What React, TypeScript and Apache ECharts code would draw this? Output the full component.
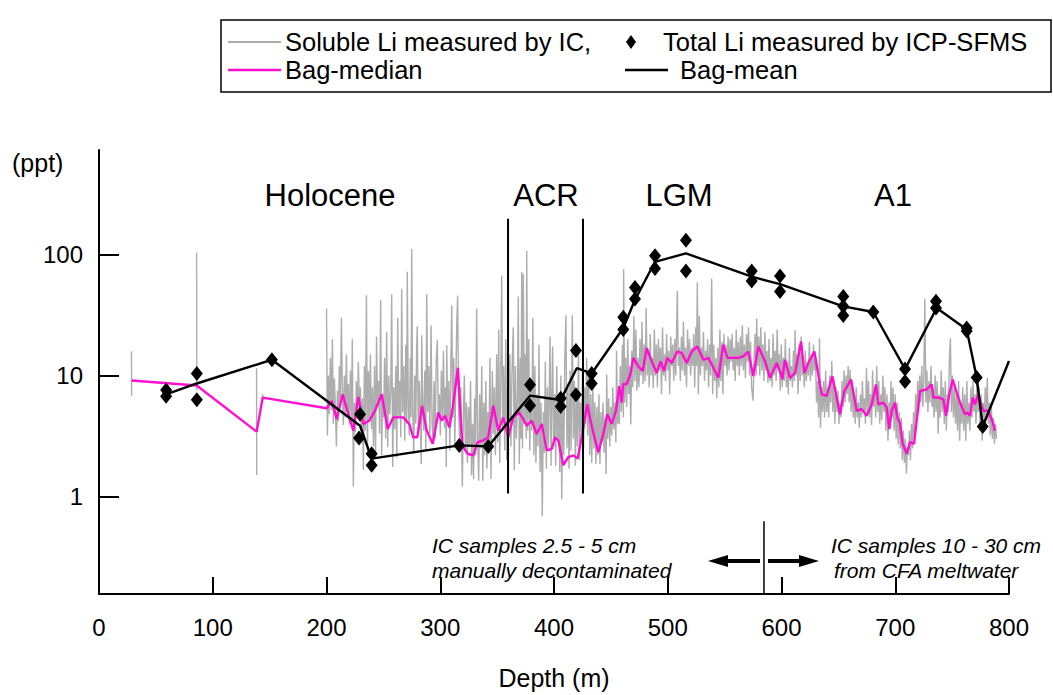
import React, { useEffect, useRef } from 'react';
import * as echarts from 'echarts';

// ---------------- DATA ----------------
const depthTicks = [0, 100, 200, 300, 400, 500, 600, 700, 800];
const yTickValues = [1, 10, 100];

// Soluble Li measured by IC (grey); '-' marks gaps between isolated bags
const solubleIC: [number, number | string][] = [
  [28.5, 15.9], [28.7, 6.8], [57, '-'],
  [85.8, 104], [86.0, 7.6], [110, '-'],
  [138.5, 11.5], [138.7, 1.51], [141, '-'],
  [143.8, 7.0], [144.0, 6.2], [170, '-'],
  [200.0, 35.8], [200.8, 3.2], [201.7, 10], [202.5, 4.8], [203.4, 14], [204.3, 5.2], [205.2, 20], [206.0, 4.0],
  [206.9, 9.5], [207.8, 5.5], [208.7, 2.6], [209.6, 7.5], [210.4, 4.2], [211.3, 12], [212.2, 6], [213.1, 30],
  [214.0, 7], [214.8, 3.9], [215.7, 10], [216.6, 4.5], [217.5, 15], [218.4, 5], [219.2, 8.5], [220.1, 3.95],
  [221.0, 11], [221.9, 4.3], [222.7, 20], [223.6, 1.21], [224.5, 6], [225.4, 3.4], [226.2, 9], [227.1, 4.6],
  [228.0, 13], [228.9, 5.5], [229.8, 8], [230.6, 3.2], [231.5, 6.5], [232.4, 1.66], [233.3, 12], [234.2, 3.5],
  [235.1, 46], [236.0, 2.4], [236.8, 10.9], [237.7, 4.2], [238.6, 15], [239.5, 3.6], [240.4, 8], [241.3, 2.6],
  [242.2, 12], [243.1, 2.05], [244.0, 21], [244.9, 5.6], [245.8, 9], [246.7, 3.3], [247.6, 42], [248.5, 2.2],
  [249.3, 7], [250.2, 4.5], [251.1, 14], [252.0, 3.0], [252.9, 23], [253.8, 2.56], [254.7, 10], [255.6, 4.8],
  [256.5, 7.5], [257.3, 47], [258.2, 1.76], [259.1, 8], [260.0, 3.6], [260.9, 12], [261.8, 2.1], [262.6, 30],
  [263.5, 4.5], [264.4, 9], [265.3, 3.1], [266.1, 52], [267.0, 5], [267.9, 12], [268.8, 2.9], [269.7, 18],
  [270.5, 4], [271.0, 72], [271.9, 6], [272.8, 3.2], [273.7, 14], [274.3, 4.5], [274.9, 111], [275.8, 5],
  [276.7, 2.25], [277.6, 10], [278.5, 4], [279.2, 16], [279.8, 25.5], [280.7, 3.3], [281.6, 9], [282.5, 4.5],
  [283.3, 1.86], [283.7, 21.5], [284.6, 6], [285.5, 3.5], [286.4, 11], [287.3, 2.42], [288.1, 47], [289.0, 5],
  [289.9, 12], [290.8, 3.3], [291.9, 26], [292.8, 4], [293.7, 2.8], [294.6, 9], [295.5, 3], [296.4, 13],
  [297.4, 19.6], [298.3, 4.5], [299.2, 7], [300.1, 3.2], [301.0, 11], [301.9, 4.4], [302.8, 16], [303.7, 3.7],
  [304.6, 8], [305.3, 1.76], [305.7, 17.8], [306.6, 3.9], [307.5, 9], [308.4, 2.4], [309.3, 12], [310.1, 37.8],
  [311.0, 4.5], [311.9, 14], [312.8, 2.7], [313.7, 9], [314.5, 26], [315.3, 45.7], [316.2, 5], [317.1, 2.8],
  [318.0, 8], [319.4, 1.21], [320.3, 4.5], [321.2, 10], [322.1, 2.4], [323.0, 6], [323.9, 1.9], [324.8, 5.5],
  [325.7, 2.6], [326.6, 9], [327.5, 1.5], [328.4, 4], [329.3, 1.4], [330.2, 6.5], [331.1, 2.2], [332.0, 35.8],
  [332.9, 3], [333.8, 1.35], [334.7, 7], [335.6, 2.5], [336.5, 12], [337.4, 1.35], [338.3, 6], [339.2, 2.2],
  [340.1, 9], [341.0, 1.7], [341.9, 5], [342.8, 2.8], [343.7, 14], [344.6, 1.4], [345.8, 10.9], [346.7, 3.3],
  [347.6, 8], [348.5, 2.2], [349.6, 15], [350.5, 2.8], [351.4, 24], [352.3, 1.9], [353.2, 9], [354.0, 67],
  [354.9, 3.5], [355.8, 12], [356.7, 2.4], [357.6, 20], [358.5, 2.0], [359.4, 8], [360.3, 3.2], [361.2, 15],
  [362.1, 2.6], [363.0, 10], [364.2, 25], [365.1, 1.66], [366.0, 12], [366.9, 3], [367.8, 6], [368.6, 45],
  [369.5, 1.86], [370.4, 14], [371.0, 3], [371.6, 72], [372.3, 2.5], [373.0, 69], [373.9, 4], [374.8, 15],
  [375.5, 3], [376.0, 107], [376.9, 3.5], [377.8, 20], [378.7, 2.4], [379.6, 9], [380.5, 3.5], [381.4, 30],
  [382.3, 2.2], [383.2, 12], [384.1, 1.9], [385.0, 7], [385.9, 2.6], [386.8, 18], [387.7, 1.6], [388.6, 6],
  [389.7, 0.69], [390.6, 5], [391.5, 2.3], [392.4, 13], [393.3, 1.7], [394.2, 8], [395.1, 2.5], [396.5, 21],
  [397.4, 1.8], [398.3, 9], [398.8, 17.4], [399.7, 2.6], [400.6, 7], [401.5, 1.8], [402.4, 12], [403.3, 3],
  [404.2, 6], [405.1, 1.6], [406.0, 10], [406.8, 0.95], [407.7, 5], [408.6, 2.2], [409.5, 14], [410.5, 31.5],
  [411.4, 2.5], [412.3, 8], [413.2, 1.7], [414.1, 11], [415.0, 2.4], [416.1, 31.5], [417.0, 3], [417.9, 9],
  [418.8, 1.8], [419.7, 7], [420.6, 2.6], [421.5, 16], [422.4, 2.0], [423.3, 6], [424.2, 3.4], [425.1, 12],
  [426.0, 2.5], [426.9, 8], [427.8, 4], [428.7, 14], [429.6, 3.2], [430.5, 10.9], [431.4, 2.2], [432.3, 7],
  [433.2, 1.9], [434.1, 9], [435.0, 2.5], [435.9, 6], [436.8, 1.86], [437.7, 5.5], [438.6, 2.2], [439.5, 7],
  [440.4, 1.86], [441.3, 5], [442.2, 2.8], [443.1, 6], [444.0, 2.3], [444.9, 4.5], [445.8, 1.54], [446.3, 10.2],
  [447.2, 3], [448.1, 6.5], [449.0, 2.6], [449.9, 5.5], [450.8, 3.2], [451.7, 8], [452.6, 3.6], [453.5, 6],
  [454.4, 2.8], [455.0, 16], [455.9, 4], [456.8, 7], [457.4, 3.95], [458.3, 12], [459.2, 5], [460.1, 18],
  [461.0, 4.5], [461.2, 76], [462.1, 6], [463.0, 14], [463.9, 5.5], [464.8, 20], [465.7, 7], [466.6, 12],
  [467.5, 3.95], [468.4, 16], [469.3, 8], [470.2, 31], [471.1, 9], [472.0, 24], [472.9, 7.5], [473.8, 14],
  [474.7, 8], [475.6, 20], [476.5, 10], [477.4, 28], [478.3, 8.5], [479.2, 18], [480.1, 9], [481.0, 36],
  [481.9, 10], [482.8, 16], [483.7, 8], [484.6, 22], [485.5, 10], [486.4, 14], [487.3, 7.9], [488.2, 24],
  [489.1, 10], [490.0, 18], [490.9, 8], [491.8, 20], [492.7, 11], [493.6, 17], [494.5, 7], [495.4, 25],
  [496.3, 10], [497.2, 15], [498.1, 9], [499.0, 22], [499.9, 11], [500.8, 16], [501.7, 7], [502.6, 21],
  [503.5, 12], [504.4, 18], [505.3, 9], [506.2, 20], [507.1, 10], [508.4, 50], [509.3, 12], [510.2, 17],
  [511.1, 9], [512.0, 21], [512.9, 11], [513.8, 28], [514.7, 10], [515.6, 17], [516.5, 8], [517.4, 24],
  [518.3, 12], [519.2, 20], [520.1, 10], [521.0, 17], [521.9, 12], [522.8, 22], [523.7, 8], [524.6, 25],
  [525.3, 12], [526.0, 59], [526.9, 7], [527.8, 31], [528.7, 10], [529.6, 17], [530.5, 12], [531.4, 23],
  [532.3, 9], [533.2, 16], [534.1, 11], [535.0, 20], [535.9, 8], [536.8, 18], [537.7, 10], [538.6, 63],
  [539.5, 7], [540.4, 18], [541.3, 9], [542.2, 14], [543.1, 6.5], [544.0, 17], [544.9, 8], [545.8, 24],
  [546.7, 9], [547.6, 19], [548.5, 7], [549.4, 22], [550.3, 12], [551.2, 18], [552.1, 10], [553.0, 21],
  [553.9, 11], [554.8, 20], [555.7, 13], [556.6, 22], [557.5, 11], [558.4, 17], [559.3, 9], [560.2, 24],
  [561.1, 12], [562.0, 19], [562.9, 10], [563.8, 21], [564.7, 12], [565.6, 26], [566.5, 11], [567.4, 18],
  [568.3, 9.5], [569.2, 22], [570.1, 13], [571.0, 25], [571.9, 10], [572.8, 19], [573.7, 8], [575.0, 6.2],
  [575.9, 14], [576.8, 22], [577.7, 10], [578.2, 29.6], [579.1, 12], [580.0, 21], [580.9, 10], [581.8, 25],
  [582.7, 11], [583.6, 18], [584.5, 9], [585.4, 23], [586.3, 11], [587.2, 16], [588.1, 8.7], [589.0, 20],
  [589.9, 9], [590.8, 14], [591.7, 8], [592.6, 22], [593.5, 10], [594.4, 16], [595.3, 9], [596.2, 24],
  [597.1, 11], [598.0, 15], [598.9, 7.5], [599.8, 18], [600.7, 8], [601.6, 14], [602.5, 9], [603.4, 20],
  [604.3, 8], [605.2, 13], [606.0, 7], [606.9, 17], [607.8, 9], [608.7, 12], [609.6, 8], [610.5, 16],
  [611.4, 9], [611.9, 23.8], [612.8, 10], [613.7, 15], [614.6, 7], [615.5, 18], [616.4, 9], [617.3, 21],
  [618.2, 10], [619.1, 14], [620.0, 8], [620.9, 16], [621.8, 9], [622.7, 13], [623.6, 10], [624.5, 19],
  [625.4, 9], [626.3, 15], [627.2, 10], [628.1, 18], [629.0, 11], [629.9, 14], [630.8, 6], [631.7, 9],
  [632.6, 4.5], [633.4, 20.3], [634.3, 3.7], [635.2, 8], [636.1, 5], [637.0, 9], [637.9, 4.5], [638.8, 11],
  [639.7, 5], [640.6, 8], [641.5, 4.5], [642.4, 10], [643.3, 6], [644.2, 13.2], [645.1, 5], [646.0, 9],
  [646.9, 4], [647.8, 8], [648.7, 5], [649.6, 7.5], [650.5, 3.98], [651.4, 6], [652.3, 4.5], [653.2, 9],
  [654.1, 5.5], [655.0, 11], [655.9, 6], [656.8, 10], [657.7, 7], [658.6, 12], [659.5, 6], [660.3, 11.2],
  [661.2, 5], [662.1, 9], [663.0, 4.5], [663.9, 7], [664.8, 4], [665.7, 8], [666.6, 4.5], [667.5, 6],
  [668.4, 3.7], [669.3, 7], [670.2, 4.5], [671.1, 9], [672.0, 5], [672.9, 6.5], [673.8, 4], [674.7, 11.6],
  [675.6, 5], [676.5, 9], [677.4, 4.5], [678.3, 7], [679.2, 3.9], [680.1, 11], [681.0, 5.5], [681.9, 8],
  [682.8, 4.5], [683.7, 12], [684.6, 5], [685.5, 9], [686.4, 4], [687.3, 7], [688.2, 4.3], [689.1, 10],
  [690.0, 5], [690.9, 8], [691.8, 3.5], [692.7, 7], [693.6, 2.9], [694.5, 6], [695.4, 4], [696.3, 9],
  [697.2, 4.5], [698.1, 8], [699.0, 3.5], [699.9, 7], [700.8, 3], [701.7, 6], [702.6, 2.7], [703.5, 5],
  [704.4, 2.5], [705.3, 4.5], [706.2, 2], [707.1, 3.5], [708.0, 1.9], [708.9, 3], [709.8, 1.55], [710.7, 2.6],
  [711.6, 2.2], [712.5, 3.5], [713.4, 2], [714.3, 4], [715.2, 2.5], [716.1, 5], [717.0, 3], [717.9, 7],
  [718.8, 4.5], [719.7, 9], [720.6, 5], [721.5, 10], [722.4, 6], [723.3, 12], [724.2, 5.5], [725.1, 9],
  [726.0, 43], [726.9, 6], [727.8, 11], [728.7, 5], [729.6, 9], [730.5, 6], [731.4, 12], [732.3, 5.5],
  [733.2, 8], [734.1, 4.5], [735.0, 10], [735.9, 5], [736.8, 9], [737.7, 3.3], [738.6, 7], [739.5, 4.5],
  [740.4, 11], [741.3, 5], [742.2, 8], [743.1, 4], [744.0, 9], [744.9, 3.5], [745.8, 7], [746.7, 5],
  [747.6, 14], [748.5, 20.3], [749.4, 5], [750.3, 10], [751.2, 4.5], [752.1, 8], [753.0, 4], [753.9, 7],
  [754.8, 3.5], [755.7, 9], [756.6, 2.9], [757.5, 6], [758.4, 4], [759.3, 8], [760.2, 3.5], [761.1, 7],
  [762.0, 2.9], [762.9, 9], [763.8, 4], [764.7, 6], [765.6, 3.5], [766.5, 8], [767.4, 4.5], [768.3, 9],
  [769.2, 5], [770.1, 7], [771.0, 4], [771.9, 9], [772.8, 5], [773.7, 8], [774.6, 3.5], [775.5, 7],
  [776.4, 2.9], [777.3, 6], [778.2, 3.5], [779.1, 8], [780.0, 4.5], [780.9, 9.6], [781.8, 4], [782.7, 6],
  [783.6, 3.2], [784.5, 5.5], [785.4, 3], [786.3, 4.5], [787.2, 2.73], [788.1, 4], [789.0, 3],
];

// Bag-median (magenta)
const bagMedian: [number, number][] = [
  [28.7, 9.1], [85.9, 8.28], [138.6, 3.44], [143.9, 6.58], [200.2, 5.37], [204.6, 6.18], [209, 4.37],
  [214.2, 7.0], [219.2, 4.8], [223.6, 3.51], [228, 6.66], [232.4, 3.98], [237.6, 4.24], [242.6, 5.12],
  [248.5, 7.0], [253.8, 3.62], [258.7, 4.51], [267.5, 4.51], [272.8, 3.98], [276.3, 3.09], [279.8, 3.09],
  [284, 5.62], [288.1, 3.51], [293.4, 2.73], [298.3, 4.95], [301.3, 4.24], [304.2, 4.66], [308, 3.73],
  [311, 5.44], [315.5, 11.6], [319.4, 2.65], [324.1, 2.26], [329, 2.19], [332.9, 2.82], [337.8, 2.91],
  [342.2, 3.09], [346.6, 5.62], [351, 3.51], [355.4, 4.51], [359.8, 3.09], [364.2, 4.51], [369.2, 4.95],
  [373, 4.37], [376, 3.86], [380.4, 4.24], [384.8, 3.29], [389.2, 3.98], [393.6, 2.41], [398, 2.48],
  [400.9, 3.09], [403.8, 2.91], [408.2, 1.82], [412.6, 2.12], [417, 2.19], [420.8, 2.06], [424.3, 3.09],
  [429.3, 5.79], [432.4, 4.1], [435.5, 3.1], [439, 2.33], [443.3, 3.29], [446.9, 4.8], [450.7, 3.98],
  [454.5, 5.12], [457.4, 8.19], [459.5, 5.98], [460.9, 8.55], [463.9, 8.45], [467.4, 10.5], [469.7, 14.0],
  [474.1, 11.9], [478, 10.9], [481.5, 16.9], [485.9, 13.1], [490.3, 10.5], [493.8, 13.1], [496.7, 10.9],
  [499.6, 14.0], [503.5, 12.7], [508.4, 15.8], [512.3, 15.3], [516.7, 12.7], [521.1, 15.8], [526, 17.4],
  [531.3, 13.5], [535.7, 14.0], [540.1, 11.6], [544.5, 9.57], [548.8, 18], [552.5, 14], [562, 14.0],
  [566.4, 14.4], [570.8, 15.8], [575.2, 9.89], [579.6, 17.4], [585.5, 13.1], [589.9, 9.57], [595.8, 12.7],
  [599.6, 10.2], [600.7, 9.28], [603, 13.5], [607.5, 9.57], [611.9, 10.5], [617.2, 19.1], [620.1, 10.5],
  [623.6, 12.7], [628.9, 15.8], [635.3, 7.0], [639.7, 6.79], [644.7, 9.89], [651.4, 4.8], [655.2, 7.45],
  [661.1, 9.27], [666.1, 5.12], [670.5, 5.27], [674.9, 4.66], [679.3, 5.79], [683.1, 8.44], [685.1, 5.79],
  [689.5, 5.98], [692.5, 5.44], [694.8, 3.62], [696.9, 5.12], [699.8, 5.98], [701.8, 4.51], [704.2, 4.03],
  [706.5, 2.73], [710.1, 2.26], [713, 2.82], [716.5, 2.73], [721.8, 7.45], [727.6, 7.69], [732, 8.44],
  [733.5, 6.58], [737.9, 6.58], [742.3, 6.36], [744.6, 4.66], [747.5, 7.0], [750.5, 9.27], [754.5, 7.0],
  [757.5, 5.79], [761.3, 4.8], [763.3, 4.95], [765.7, 4.66], [768.1, 6.58], [770.1, 5.79], [773, 7.0],
  [777.4, 5.12], [781.8, 5.12], [785.7, 4.1], [787.7, 3.51],
];

// Bag-mean (black line)
const bagMean: [number, number][] = [
  [59, 6.98], [86, 8.6], [152, 13.5], [229.5, 3.85], [239.7, 2.06], [316.7, 2.65], [342.2, 2.6],
  [378.9, 6.82], [405.9, 6.28], [420, 11.5], [433.1, 10.4], [460.9, 24.7], [471.2, 42.2], [488.8, 87],
  [516, 102], [573.8, 65.6], [598.7, 56.8], [654.3, 37.3], [680.7, 33.5], [708.6, 11.3], [736.4, 36.1],
  [762.8, 24.0], [771.6, 9.63], [776.9, 3.8], [800, 13.2],
];

// Total Li measured by ICP-SFMS (diamonds)
const totalLi: [number, number][] = [
  [59, 7.58], [59, 6.73], [86, 10.4], [86, 6.32], [152, 13.5], [229.5, 4.79], [228.6, 3.05],
  [239.7, 2.26], [239.7, 1.82], [316.7, 2.65], [342.2, 2.6], [378.9, 8.39], [378.9, 5.65],
  [405.9, 6.48], [405.9, 5.54], [419.3, 16.1], [419.3, 6.95], [433.1, 10.4], [433.1, 8.6],
  [460.9, 30.3], [460.9, 24.0], [471.2, 53.3], [471.2, 42.8], [488.8, 97.6], [488.8, 76.7],
  [516, 131], [516, 73], [573.8, 73], [573.8, 60.4], [598.7, 66.4], [598.7, 49.5],
  [654.3, 45], [654.3, 37.3], [654.3, 31.4], [680.7, 33.5], [708.6, 11.3], [708.6, 8.93],
  [735.8, 41], [735.8, 36.1], [762.8, 24.7], [762.8, 23.3], [771.6, 9.63], [776.9, 3.8],
];

// ACR period boundaries (depth, m) and their vertical extent (ppt)
const acrBounds = [359.6, 425.5];
const acrExtent = [1.06, 197];
// Sampling-method change (depth, m) and its vertical extent (ppt)
const methodChangeDepth = 584.6;
const methodChangeExtent = [0.157, 0.625];

const yMin = 0.157;
const yMax = 729;

const FONT = '"Liberation Sans", Arial, Helvetica, sans-serif';

export default function App() {
  const ref = useRef<HTMLDivElement>(null);

  useEffect(() => {
    if (!ref.current) return;
    const chart = echarts.init(ref.current, undefined, { renderer: 'svg' });

    const vLine = (d: number, ext: number[]) => [[d, ext[1]], [d, ext[0]]];
    const txt = (text: string, x: number, y: number, size: number, extra: any = {}) => ({
      type: 'text',
      style: { text, x, y, fontSize: size, fontFamily: FONT, fill: '#000', verticalAlign: 'middle', ...extra },
    });

    const option: any = {
      animation: false,
      backgroundColor: '#ffffff',
      grid: { left: 99, right: 44, top: 150, bottom: 97 },
      xAxis: {
        type: 'value',
        min: depthTicks[0],
        max: depthTicks[depthTicks.length - 1],
        interval: 100,
        axisLine: { show: true, onZero: false, lineStyle: { color: '#000', width: 2 } },
        axisTick: { show: true, inside: true, length: 17, lineStyle: { color: '#000', width: 2 } },
        axisLabel: { color: '#000', fontSize: 24, fontFamily: FONT, margin: 21 },
        splitLine: { show: false },
        name: 'Depth (m)',
        nameLocation: 'middle',
        nameGap: 71,
        nameTextStyle: { color: '#000', fontSize: 25, fontFamily: FONT },
      },
      yAxis: {
        type: 'log',
        logBase: 10,
        min: yMin,
        max: yMax,
        axisLine: { show: true, onZero: false, lineStyle: { color: '#000', width: 2 } },
        axisTick: {
          show: true, inside: true, length: 20, customValues: yTickValues,
          lineStyle: { color: '#000', width: 2 },
        },
        axisLabel: {
          color: '#000', fontSize: 24, fontFamily: FONT, margin: 16,
          customValues: yTickValues,
          formatter: (v: number) => String(Math.round(v)),
        },
        splitLine: { show: false },
      },
      series: [
        {
          name: 'Soluble Li measured by IC,',
          type: 'line',
          data: solubleIC,
          showSymbol: false,
          connectNulls: false,
          lineStyle: { color: '#adadad', width: 1.4 },
          z: 1,
        },
        {
          name: 'Bag-median',
          type: 'line',
          data: bagMedian,
          showSymbol: false,
          lineStyle: { color: '#ff10d0', width: 2.4 },
          z: 2,
        },
        {
          name: 'Bag-mean',
          type: 'line',
          data: bagMean,
          showSymbol: false,
          lineStyle: { color: '#000', width: 2.4 },
          z: 3,
        },
        {
          name: 'Total Li measured by ICP-SFMS',
          type: 'scatter',
          data: totalLi,
          symbol: 'diamond',
          symbolSize: [12, 15],
          itemStyle: { color: '#000', opacity: 1 },
          z: 4,
        },
        ...acrBounds.map((d) => ({
          type: 'line',
          data: vLine(d, acrExtent),
          showSymbol: false,
          lineStyle: { color: '#000', width: 2 },
          z: 5,
        })),
        {
          type: 'line',
          data: vLine(methodChangeDepth, methodChangeExtent),
          showSymbol: false,
          lineStyle: { color: '#000', width: 1.5 },
          z: 5,
        },
      ],
      graphic: [
        // legend box
        { type: 'rect', shape: { x: 221, y: 20, width: 830, height: 72 }, style: { fill: '#fff', stroke: '#000', lineWidth: 1.5 } },
        { type: 'line', shape: { x1: 228, y1: 42, x2: 281, y2: 42 }, style: { stroke: '#adadad', lineWidth: 1.8 } },
        txt('Soluble Li measured by IC,', 285, 42, 25.5),
        { type: 'polygon', shape: { points: [[631, 35], [636, 42], [631, 49], [626, 42]] }, style: { fill: '#000' } },
        txt('Total Li measured by ICP-SFMS', 663, 42, 25.5),
        { type: 'line', shape: { x1: 228, y1: 70, x2: 281, y2: 70 }, style: { stroke: '#ff10d0', lineWidth: 2.4 } },
        txt('Bag-median', 285, 70, 25.5),
        { type: 'line', shape: { x1: 625, y1: 70, x2: 668, y2: 70 }, style: { stroke: '#000', lineWidth: 2.4 } },
        txt('Bag-mean', 680, 70, 25.5),
        // unit
        txt('(ppt)', 12, 163, 25),
        // period labels
        txt('Holocene', 330, 195, 31, { align: 'center' }),
        txt('ACR', 546, 195, 31, { align: 'center' }),
        txt('LGM', 679, 195, 31, { align: 'center' }),
        txt('A1', 893, 195, 31, { align: 'center' }),
        // sampling annotations
        txt('IC samples 2.5 - 5 cm', 432, 545, 21, { fontStyle: 'italic' }),
        txt('manually decontaminated', 432, 570, 21, { fontStyle: 'italic' }),
        txt('IC samples 10 - 30 cm', 831, 545, 21, { fontStyle: 'italic' }),
        txt('from CFA meltwater', 834, 570, 21, { fontStyle: 'italic' }),
        // arrows
        { type: 'rect', shape: { x: 726, y: 559, width: 34, height: 4 }, style: { fill: '#000' } },
        { type: 'polygon', shape: { points: [[708, 561], [728, 555], [728, 567]] }, style: { fill: '#000' } },
        { type: 'rect', shape: { x: 768, y: 559, width: 33, height: 4 }, style: { fill: '#000' } },
        { type: 'polygon', shape: { points: [[819, 561], [799, 555], [799, 567]] }, style: { fill: '#000' } },
      ],
    };

    chart.setOption(option);
    return () => chart.dispose();
  }, []);

  return (
    <div
      ref={ref}
      style={{ position: 'fixed', left: 0, top: 0, width: 1053, height: 695, background: '#fff' }}
    />
  );
}
